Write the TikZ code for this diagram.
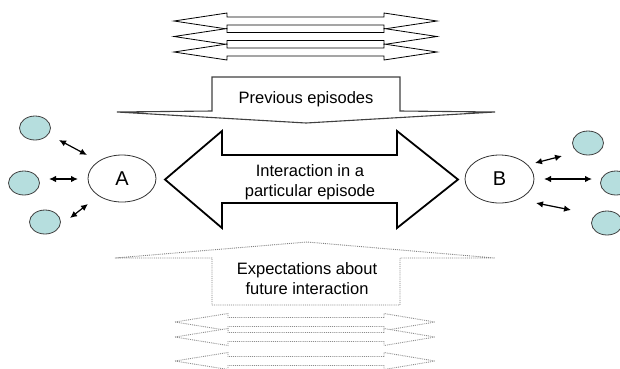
\documentclass[tikz,border=0pt]{standalone}
\usepackage{fontspec}
\setmainfont{Liberation Sans}
\usetikzlibrary{shapes.geometric,arrows.meta}
\definecolor{dotcyan}{RGB}{182,222,222}
\tikzset{
  thinarrow/.style={draw=black, fill=white, line width=0.8pt, line join=miter},
  fadearrow/.style={draw=black!45, fill=white, line width=0.9pt, densely dotted},
  bigdown/.style={draw=black!75, fill=white, line width=1.1pt},
  bigup/.style={draw=black!50, fill=white, line width=0.9pt, densely dotted},
  mainarrow/.style={draw=black, fill=white, line width=1.8pt, line join=miter},
  actor/.style={ellipse, draw=black!80, line width=0.8pt, fill=white, minimum width=68pt, minimum height=47pt, inner sep=0pt, font=\fontsize{20}{22}\selectfont},
  other/.style={ellipse, draw=black!75, line width=0.8pt, fill=dotcyan, minimum width=31pt, minimum height=24pt, inner sep=0pt},
  link/.style={{Latex[length=7pt,width=6.5pt]}-{Latex[length=7pt,width=6.5pt]}, line width=1.2pt},
  label/.style={align=center, font=\fontsize{16.5}{20}\selectfont, inner sep=0pt}
}
\begin{document}
\begin{tikzpicture}[x=1pt,y=-1pt]
\useasboundingbox (0,0) rectangle (620,368);
\clip (0,0) rectangle (620,368);
% top stacked arrows
\foreach \c in {21,36.5,52}{
  \draw[thinarrow] (174,\c) -- (227,\c-8) -- (227,\c-4) -- (384,\c-4) -- (384,\c-8) -- (437,\c) -- (384,\c+8) -- (384,\c+4) -- (227,\c+4) -- (227,\c+8) -- cycle;
}
% bottom faded arrows
\foreach \c in {322,337,361}{
  \draw[fadearrow] (175,\c) -- (228,\c-8.5) -- (228,\c-4.5) -- (384,\c-4.5) -- (384,\c-8.5) -- (435,\c) -- (384,\c+8.5) -- (384,\c+4.5) -- (228,\c+4.5) -- (228,\c+8.5) -- cycle;
}
% previous episodes arrow
\draw[bigdown] (212,77) -- (400,77) -- (400,111) -- (495,112) -- (306,123) -- (117,112) -- (212,111) -- cycle;
\node[label] (prev) at (306,99) {Previous episodes};
% expectations arrow
\draw[bigup] (212,305) -- (400,305) -- (400,258) -- (495,258) -- (307,242) -- (115,258) -- (212,258) -- cycle;
\node[label] (expect) at (307,279) {Expectations about\\future interaction};
% main interaction arrow
\draw[mainarrow] (165,179.5) -- (222,131) -- (222,155) -- (397,155) -- (397,131) -- (458,179.5) -- (397,228) -- (397,203) -- (222,203) -- (222,228) -- cycle;
\node[label] (inter) at (310,182) {Interaction in a\\particular episode};
% actors
\node[actor] (A) at (122,178.5) {A};
\node[actor, minimum width=69pt, minimum height=48pt] (B) at (499.5,179) {B};
% others
\node[other] (c1) at (35,128) {};
\node[other] (c2) at (24,183) {};
\node[other] (c3) at (45,222) {};
\node[other] (d1) at (588,143) {};
\node[other] (d2) at (616,183) {};
\node[other] (d3) at (607,223) {};
% link end points
\coordinate (a1) at (59,140); \coordinate (a1e) at (87,155);
\coordinate (a2) at (49,179); \coordinate (a2e) at (78,179);
\coordinate (a3) at (70,218); \coordinate (a3e) at (88,204);
\coordinate (b1) at (535,163); \coordinate (b1e) at (562,156);
\coordinate (b2) at (544,179); \coordinate (b2e) at (592,179);
\coordinate (b3) at (536,203); \coordinate (b3e) at (571,210);
\draw[link] (a1) -- (a1e);
\draw[link] (a2) -- (a2e);
\draw[link] (a3) -- (a3e);
\draw[link] (b1) -- (b1e);
\draw[link] (b2) -- (b2e);
\draw[link] (b3) -- (b3e);
\end{tikzpicture}
\end{document}
